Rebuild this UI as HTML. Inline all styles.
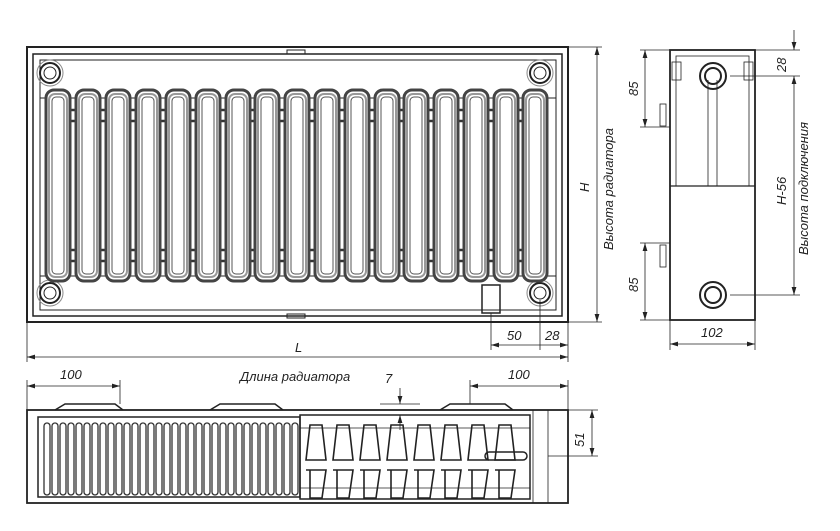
<!DOCTYPE html>
<html><head><meta charset="utf-8"><style>
body{margin:0;background:#fff}
svg{display:block}
text{font-family:"Liberation Sans",sans-serif;font-style:italic;font-size:13px;fill:#222}
</style></head><body>
<svg width="840" height="531" viewBox="0 0 840 531" xmlns="http://www.w3.org/2000/svg">
<defs>
<marker id="a" viewBox="0 0 10 6" refX="10" refY="3" markerWidth="10" markerHeight="6" orient="auto-start-reverse"><path d="M0,0L10,3L0,6z" fill="#222"/></marker>
<g id="col"><rect x="0" y="90" width="24" height="191" rx="8" fill="#fff" stroke="#444" stroke-width="3"/><rect x="3" y="94" width="18" height="183" rx="6" fill="none" stroke="#999" stroke-width="2"/><rect x="6" y="97" width="12" height="177" rx="4" fill="none" stroke="#555" stroke-width="1"/></g>
<g id="fin"><rect x="0" y="423" width="6" height="72" rx="3" fill="none" stroke="#333" stroke-width="1.3"/></g>
<g id="wave"><path d="M0,425 h12 l4,35 h-20z M0,470 l-4,0 h20 l-4,28 h-12z" fill="none" stroke="#222" stroke-width="1.6"/></g>
</defs>
<g fill="none" stroke="#222" stroke-width="1">
<rect x="27" y="47" width="541" height="275" stroke-width="2"/>
<rect x="33" y="54" width="529" height="262" stroke-width="1.5"/>
<rect x="40" y="60" width="516" height="250"/>
<line x1="40" y1="98" x2="556" y2="98"/><line x1="40" y1="276" x2="556" y2="276"/>
<g stroke-width="2.5" stroke="#333"><line x1="60" y1="110" x2="535" y2="110"/><line x1="60" y1="121" x2="535" y2="121"/><line x1="60" y1="250" x2="535" y2="250"/><line x1="60" y1="261" x2="535" y2="261"/></g>
<circle cx="50" cy="73" r="10" stroke-width="2"/><circle cx="50" cy="73" r="6"/><circle cx="50" cy="73" r="13" stroke="#888"/>
<circle cx="50" cy="293" r="10" stroke-width="2"/><circle cx="50" cy="293" r="6"/><circle cx="50" cy="293" r="13" stroke="#888"/>
<circle cx="540" cy="73" r="10" stroke-width="2"/><circle cx="540" cy="73" r="6"/><circle cx="540" cy="73" r="13" stroke="#888"/>
<circle cx="540" cy="293" r="10" stroke-width="2"/><circle cx="540" cy="293" r="6"/><circle cx="540" cy="293" r="13" stroke="#888"/>
<rect x="287" y="50" width="18" height="4"/><rect x="287" y="314" width="18" height="4"/>
<rect x="482" y="285" width="18" height="28" stroke-width="1.5"/>
</g>
<use href="#col" x="46"/><use href="#col" x="76"/><use href="#col" x="106"/><use href="#col" x="136"/><use href="#col" x="166"/>
<use href="#col" x="196"/><use href="#col" x="226"/><use href="#col" x="255"/><use href="#col" x="285"/><use href="#col" x="315"/>
<use href="#col" x="345"/><use href="#col" x="375"/><use href="#col" x="404"/><use href="#col" x="434"/><use href="#col" x="464"/>
<use href="#col" x="494"/><use href="#col" x="523"/>
<g fill="none" stroke="#222" stroke-width="0.8">
<line x1="568" y1="47" x2="602" y2="47"/><line x1="568" y1="322" x2="602" y2="322"/>
<line x1="597" y1="47" x2="597" y2="322" marker-start="url(#a)" marker-end="url(#a)"/>
<line x1="27" y1="322" x2="27" y2="362"/><line x1="568" y1="322" x2="568" y2="362"/>
<line x1="27" y1="357" x2="568" y2="357" marker-start="url(#a)" marker-end="url(#a)"/>
<line x1="491" y1="313" x2="491" y2="350"/><line x1="540" y1="300" x2="540" y2="350"/>
<line x1="491" y1="345" x2="568" y2="345" marker-start="url(#a)" marker-end="url(#a)"/>
<rect x="670" y="50" width="85" height="270" stroke-width="1.8"/>
<rect x="676" y="56" width="73" height="130"/>
<line x1="670" y1="186" x2="755" y2="186" stroke-width="1.3"/>
<line x1="708" y1="80" x2="708" y2="186"/><line x1="717" y1="80" x2="717" y2="186"/>
<circle cx="713" cy="76" r="13" stroke-width="2"/><circle cx="713" cy="76" r="8" stroke-width="2"/>
<circle cx="713" cy="295" r="13" stroke-width="2"/><circle cx="713" cy="295" r="8" stroke-width="2"/>
<rect x="660" y="104" width="6" height="22"/><rect x="660" y="245" width="6" height="22"/>
<rect x="672" y="62" width="9" height="18"/><rect x="744" y="62" width="9" height="18"/>
<line x1="640" y1="50" x2="670" y2="50"/><line x1="640" y1="127" x2="670" y2="127"/>
<line x1="645" y1="50" x2="645" y2="127" marker-start="url(#a)" marker-end="url(#a)"/>
<line x1="640" y1="243" x2="670" y2="243"/><line x1="640" y1="320" x2="670" y2="320"/>
<line x1="645" y1="243" x2="645" y2="320" marker-start="url(#a)" marker-end="url(#a)"/>
<line x1="755" y1="50" x2="800" y2="50"/><line x1="730" y1="76" x2="800" y2="76"/><line x1="730" y1="295" x2="800" y2="295"/>
<line x1="794" y1="30" x2="794" y2="50" marker-end="url(#a)"/>
<line x1="794" y1="76" x2="794" y2="295" marker-start="url(#a)" marker-end="url(#a)"/>
<line x1="670" y1="320" x2="670" y2="350"/><line x1="755" y1="320" x2="755" y2="350"/>
<line x1="670" y1="344" x2="755" y2="344" marker-start="url(#a)" marker-end="url(#a)"/>
<rect x="27" y="410" width="541" height="93" stroke-width="1.8"/>
<rect x="38" y="417" width="262" height="80" stroke-width="1.5"/>
<rect x="300" y="415" width="230" height="84" stroke-width="1.5"/>
<line x1="300" y1="428" x2="530" y2="428"/><line x1="300" y1="488" x2="530" y2="488"/>
<path d="M55,410 l10,-6 h50 l8,6 M210,410 l10,-6 h55 l8,6 M440,410 l10,-6 h55 l8,6" stroke-width="1.5"/>
<line x1="533" y1="410" x2="533" y2="503"/><line x1="548" y1="410" x2="548" y2="503"/>
<rect x="485" y="452" width="42" height="8" rx="4" stroke-width="1.5"/>
<line x1="27" y1="380" x2="27" y2="410"/><line x1="120" y1="380" x2="120" y2="404"/>
<line x1="27" y1="386" x2="120" y2="386" marker-start="url(#a)" marker-end="url(#a)"/>
<line x1="470" y1="380" x2="470" y2="404"/><line x1="568" y1="380" x2="568" y2="410"/>
<line x1="470" y1="386" x2="568" y2="386" marker-start="url(#a)" marker-end="url(#a)"/>
<line x1="400" y1="388" x2="400" y2="404" marker-end="url(#a)"/><line x1="400" y1="430" x2="400" y2="415" marker-end="url(#a)"/>
<line x1="380" y1="404" x2="420" y2="404"/>
<line x1="568" y1="410" x2="598" y2="410"/><line x1="548" y1="456" x2="598" y2="456"/>
<line x1="592" y1="410" x2="592" y2="456" marker-start="url(#a)" marker-end="url(#a)"/>
</g>
<g>
<use href="#fin" x="44"/><use href="#fin" x="52"/><use href="#fin" x="60"/><use href="#fin" x="68"/><use href="#fin" x="76"/><use href="#fin" x="84"/><use href="#fin" x="92"/><use href="#fin" x="100"/><use href="#fin" x="108"/><use href="#fin" x="116"/><use href="#fin" x="124"/><use href="#fin" x="132"/><use href="#fin" x="140"/><use href="#fin" x="148"/><use href="#fin" x="156"/><use href="#fin" x="164"/><use href="#fin" x="172"/><use href="#fin" x="180"/><use href="#fin" x="188"/><use href="#fin" x="196"/><use href="#fin" x="204"/><use href="#fin" x="212"/><use href="#fin" x="220"/><use href="#fin" x="228"/><use href="#fin" x="236"/><use href="#fin" x="244"/><use href="#fin" x="252"/><use href="#fin" x="260"/><use href="#fin" x="268"/><use href="#fin" x="276"/><use href="#fin" x="284"/><use href="#fin" x="292"/>
<use href="#wave" x="310"/><use href="#wave" x="337"/><use href="#wave" x="364"/><use href="#wave" x="391"/><use href="#wave" x="418"/><use href="#wave" x="445"/><use href="#wave" x="472"/><use href="#wave" x="499"/>
</g>
<text transform="translate(589,192) rotate(-90)">H</text>
<text transform="translate(613,250) rotate(-90)">Высота радиатора</text>
<text x="295" y="352">L</text>
<text x="507" y="340">50</text>
<text x="545" y="340">28</text>
<text x="240" y="381">Длина радиатора</text>
<text x="60" y="379">100</text>
<text x="508" y="379">100</text>
<text x="385" y="383">7</text>
<text transform="translate(584,447) rotate(-90)">51</text>
<text transform="translate(638,96) rotate(-90)">85</text>
<text transform="translate(638,292) rotate(-90)">85</text>
<text transform="translate(786,72) rotate(-90)">28</text>
<text transform="translate(786,205) rotate(-90)">H-56</text>
<text transform="translate(808,255) rotate(-90)">Высота подключения</text>
<text x="701" y="337">102</text>
</svg>
</body></html>
